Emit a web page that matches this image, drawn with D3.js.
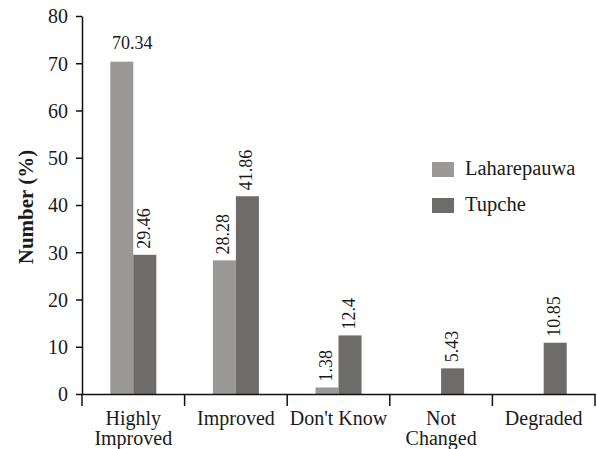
<!DOCTYPE html>
<html><head><meta charset="utf-8">
<script src="https://cdn.jsdelivr.net/npm/d3@7"></script>
<style>body{margin:0;background:#fff}svg{display:block}</style>
</head><body><svg id="c" width="597" height="449" font-family="Liberation Serif"></svg>
<script>
const categories = ["Highly Improved", "Improved", "Don't Know", "Not Changed", "Degraded"];
const categoryLines = [["Highly", "Improved"], ["Improved"], ["Don't Know"], ["Not", "Changed"], ["Degraded"]];
const seriesNames = ["Laharepauwa", "Tupche"];
const laharepauwa = [70.34, 28.28, 1.38, 0, 0];
const tupche = [29.46, 41.86, 12.4, 5.43, 10.85];
const yTicks = [0, 10, 20, 30, 40, 50, 60, 70, 80];
const colors = ["#9a9997", "#6d6c6b"];

const FONT = "Liberation Serif";
const TXT = "#1a1a1a";
const svg = d3.select("#c");
const x0 = 82, x1 = 595, yTop = 16, yBot = 394;
const x = d3.scaleBand().domain(categories).range([x0, x1]).padding(0);
const bw = 23;
const xs = d3.scaleBand().domain(seriesNames)
  .range([x.bandwidth()/2 - bw, x.bandwidth()/2 + bw]).padding(0);
const y = d3.scaleLinear().domain([0, 80]).range([yBot, yTop]);

const seriesVals = [laharepauwa, tupche];
const data = [];
categories.forEach((c, i) => seriesNames.forEach((s, j) => data.push({c, s, j, v: seriesVals[j][i]})));

// bars
svg.append("g").selectAll("rect").data(data).join("rect")
  .attr("x", d => x(d.c) + xs(d.s))
  .attr("width", xs.bandwidth())
  .attr("y", d => y(d.v))
  .attr("height", d => yBot - y(d.v))
  .attr("fill", d => colors[d.j]);

function txt(sel) { return sel.append("text").attr("font-family", FONT).attr("fill", TXT); }

// value labels
data.filter(d => d.v > 0).forEach(d => {
  const cx = x(d.c) + xs(d.s) + xs.bandwidth()/2;
  if (d.v > 60) {
    txt(svg).attr("x", x(d.c) + x.bandwidth()/2 - 1).attr("y", y(d.v) - 13)
      .attr("text-anchor", "middle").attr("font-size", 18).text(d.v);
  } else {
    txt(svg).attr("transform", `translate(${cx + 5},${y(d.v) - 6}) rotate(-90)`)
      .attr("text-anchor", "start").attr("font-size", 18).text(d.v);
  }
});

// y axis
const ya = svg.append("g").attr("transform", `translate(${x0},0)`)
  .call(d3.axisLeft(y).tickValues(yTicks).tickSize(6).tickPadding(8).tickSizeOuter(0));
ya.attr("font-family", FONT);
ya.select(".domain").attr("stroke", "#111").attr("stroke-width", 1.5);
ya.selectAll(".tick line").attr("stroke", "#111").attr("stroke-width", 1.5);
ya.selectAll(".tick text").attr("font-size", 20).attr("font-family", FONT).attr("fill", TXT).attr("dy", "0.34em");

// x axis
const xa = svg.append("g").attr("transform", `translate(0,${yBot})`)
  .call(d3.axisBottom(x).tickSize(0).tickFormat(""));
xa.select(".domain").attr("stroke", "#111").attr("stroke-width", 1.5);
const bounds = categories.map(c => x(c)).concat([x1]);
svg.append("g").selectAll("line").data(bounds).join("line")
  .attr("x1", d => d).attr("x2", d => d).attr("y1", yBot).attr("y2", yBot + 12)
  .attr("stroke", "#111").attr("stroke-width", 1.5);
categories.forEach((c, i) => {
  const t = txt(svg).attr("text-anchor", "middle").attr("font-size", 20);
  categoryLines[i].forEach((ln, k) => {
    t.append("tspan").attr("x", x(c) + x.bandwidth()/2).attr("y", 425 + k*20).text(ln);
  });
});

// y title
txt(svg).attr("transform", `translate(33,${(yTop + yBot)/2 + 2}) rotate(-90)`)
  .attr("text-anchor", "middle").attr("font-size", 21).attr("font-weight", "bold").text("Number (%)");

// legend
const lg = svg.append("g");
seriesNames.forEach((s, j) => {
  lg.append("rect").attr("x", 432).attr("y", 162 + j*36).attr("width", 22).attr("height", 15).attr("fill", colors[j]);
  txt(lg).attr("x", 465).attr("y", 175 + j*36).attr("font-size", 20.5).text(s);
});
</script></body></html>
